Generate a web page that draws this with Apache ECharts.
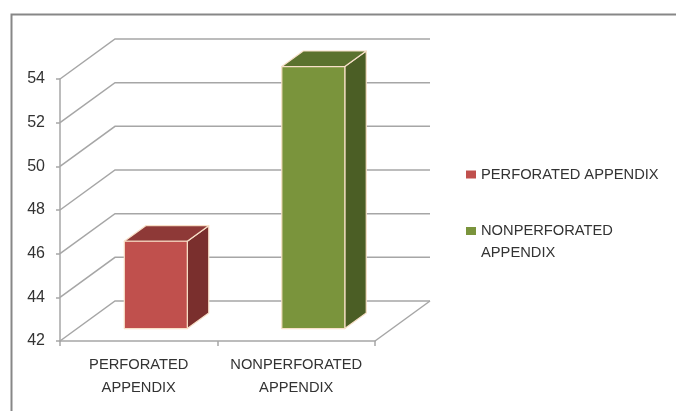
<!DOCTYPE html>
<html>
<head>
<meta charset="utf-8">
<script src="https://cdn.jsdelivr.net/npm/echarts@6/dist/echarts.min.js"></script>
<style>html,body{margin:0;padding:0;background:#fff;}#c{width:676px;height:411px;}</style>
</head>
<body>
<div id="c"></div>
<script>
// ---- data ----
const categories = ['PERFORATED APPENDIX', 'NONPERFORATED APPENDIX'];
const values = [46, 54];
const yTicks = [42, 44, 46, 48, 50, 52, 54];

// ---- styles / geometry ----
const FONT = 'Liberation Sans';
const DX = 55, DY = -40;          // depth offset of the back wall
const F0 = 0.31, F1 = 0.70;       // bar front/back depth fractions
const barStyles = [
  { front: '#C0504D', top: '#8E3937', side: '#7A2F2D' },
  { front: '#7A943C', top: '#5B722E', side: '#4B5E25' }
];
const edge = '#F8E0C8';
const gridColor = '#A6A6A6';
const textColor = '#333';

const chart = echarts.init(document.getElementById('c'));
const yMin = yTicks[0], yMax = yTicks[yTicks.length - 1];

function gridRender(params, api) {
  const v = api.value(1);
  const p = api.coord([0, v]);
  const cs = params.coordSys;
  const x0 = cs.x, x1 = cs.x + cs.width, y = p[1];
  const children = [{
    type: 'polyline',
    shape: { points: [[x0, y], [x0 + DX, y + DY], [x1 + DX, y + DY]] },
    style: { stroke: gridColor, lineWidth: 1.5, fill: null }
  }];
  if (v === yMin) {
    children.push({
      type: 'line',
      shape: { x1: x1, y1: y, x2: x1 + DX, y2: y + DY },
      style: { stroke: gridColor, lineWidth: 1.5 }
    });
  }
  return { type: 'group', children: children };
}

function barRender(st) {
  return function (params, api) {
    const i = api.value(0), v = api.value(1);
    const top = api.coord([i, v]);
    const base = api.coord([i, yMin]);
    const band = api.size([1, 0])[0];
    const w = band * 0.4;
    const ox = F0 * DX, oy = F0 * DY;
    const dx = (F1 - F0) * DX, dy = (F1 - F0) * DY;
    const xL = top[0] - w / 2 + ox, xR = xL + w;
    const yT = top[1] + oy, yB = base[1] + oy;
    const es = { stroke: edge, lineWidth: 1.2, lineJoin: 'round' };
    return {
      type: 'group',
      children: [
        { type: 'polygon', shape: { points: [[xR, yT], [xR + dx, yT + dy], [xR + dx, yB + dy], [xR, yB]] },
          style: Object.assign({ fill: st.side }, es) },
        { type: 'polygon', shape: { points: [[xL, yT], [xL + dx, yT + dy], [xR + dx, yT + dy], [xR, yT]] },
          style: Object.assign({ fill: st.top }, es) },
        { type: 'rect', shape: { x: xL, y: yT, width: w, height: yB - yT },
          style: Object.assign({ fill: st.front }, es) }
      ]
    };
  };
}

const series = [{
  type: 'custom',
  name: 'grid3d',
  clip: false,
  silent: true,
  z: 1,
  data: yTicks.map(function (t) { return [0, t]; }),
  renderItem: gridRender
}];
categories.forEach(function (c, i) {
  series.push({
    type: 'custom',
    name: c,
    clip: false,
    z: 5,
    itemStyle: { color: barStyles[i].front },
    data: [[i, values[i]]],
    renderItem: barRender(barStyles[i])
  });
});

chart.setOption({
  animation: false,
  backgroundColor: '#fff',
  textStyle: { fontFamily: FONT },
  graphic: [{
    type: 'rect', left: 9, top: 12,
    shape: { width: 800, height: 500 },
    style: { fill: null, stroke: '#878787', lineWidth: 2 }
  }],
  grid: { left: 60, top: 79, width: 315, height: 262 },
  legend: [{
    data: [categories[0]],
    left: 461, top: 162,
    itemWidth: 10, itemHeight: 8, icon: 'rect',
    textStyle: { fontSize: 14.7, color: textColor, fontFamily: FONT }
  }, {
    data: [categories[1]],
    left: 461, top: 193,
    itemWidth: 10, itemHeight: 8, icon: 'rect',
    formatter: function (n) { return '\n' + n.replace(' ', '\n'); },
    textStyle: { fontSize: 14.7, color: textColor, fontFamily: FONT, lineHeight: 22 }
  }],
  xAxis: {
    type: 'category',
    data: categories,
    axisLine: { show: true, lineStyle: { color: gridColor, width: 1.5 } },
    axisTick: { show: true, length: 5, lineStyle: { color: gridColor, width: 1.5 } },
    axisLabel: {
      interval: 0, margin: 12, color: textColor, fontSize: 14.7, fontFamily: FONT, lineHeight: 23,
      formatter: function (n) { return n.replace(' ', '\n'); }
    },
    splitLine: { show: false }
  },
  yAxis: {
    type: 'value',
    min: yMin, max: yMax, interval: 2,
    axisLine: { show: true, lineStyle: { color: gridColor, width: 1.5 } },
    axisTick: { show: true, length: 4, lineStyle: { color: gridColor, width: 1.5 } },
    axisLabel: { margin: 15, color: textColor, fontSize: 16, fontFamily: FONT, padding: [7, 0, 0, 0] },
    splitLine: { show: false }
  },
  series: series
});
</script>
</body>
</html>
